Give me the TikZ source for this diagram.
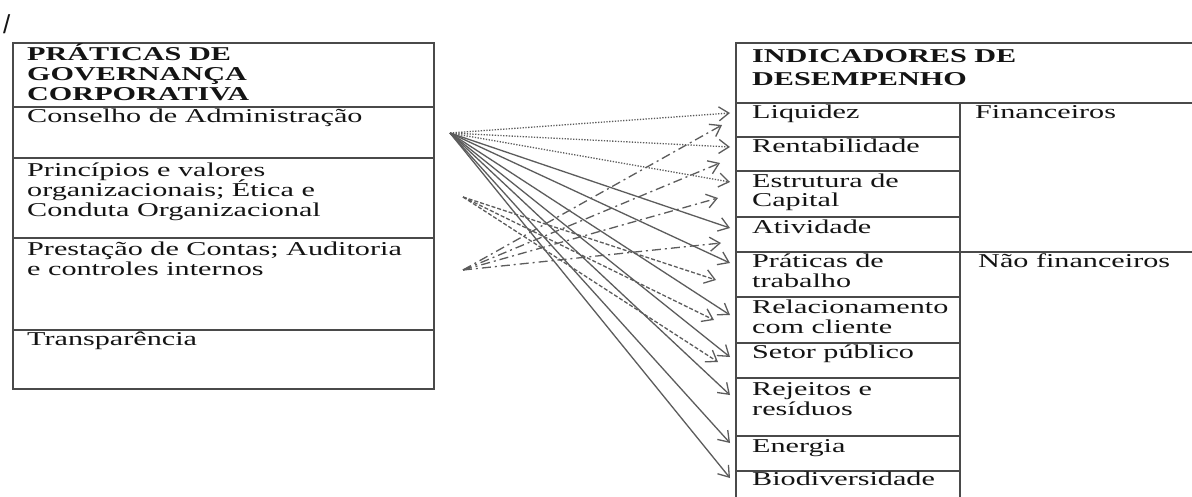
\documentclass[tikz,border=0pt]{standalone}
\usepackage{fontspec}
\setmainfont[FakeStretch=1.54]{Liberation Serif}
\newfontfamily\slashfont{Liberation Sans}
\usetikzlibrary{arrows.meta}
\definecolor{linegray}{HTML}{4A4A4A}
\definecolor{arrowgray}{HTML}{5C5C5C}
\definecolor{textc}{HTML}{141414}
\tikzset{
  cell/.style={draw=linegray, line width=2.2pt, anchor=north west, inner sep=0pt},
  txt/.style={anchor=base west, inner sep=0pt, text=textc, font=\fontsize{19.6}{22}\selectfont},
  hd/.style={txt, font=\fontsize{19.6}{22}\selectfont\bfseries},
  conn/.style={draw=arrowgray, line width=1.3pt, -{Straight Barb[length=10pt,width=14pt]}},
  dotc/.style={conn, dash pattern=on 1.3pt off 1.5pt},
  dashc/.style={conn, dash pattern=on 4pt off 2pt},
  dashdotc/.style={conn, dash pattern=on 9pt off 4pt on 2pt off 4pt},
}
\begin{document}
\begin{tikzpicture}[x=1pt,y=-1pt]
\useasboundingbox (0,0) rectangle (1192,496);
\clip (0,0) rectangle (1192,496);
\fill[white] (0,0) rectangle (1192,496);
% slash
\node[anchor=base west, inner sep=0pt, text=textc, font=\slashfont\fontsize{26}{28}\selectfont] (slash) at (3,33) {/};
% left table
\node[cell, minimum width=421pt, minimum height=64pt] (lhead) at (12,42) {};
\node[cell, minimum width=421pt, minimum height=51pt] (lr1) at (12,106) {};
\node[cell, minimum width=421pt, minimum height=80pt] (lr2) at (12,157) {};
\node[cell, minimum width=421pt, minimum height=92pt] (lr3) at (12,237) {};
\node[cell, minimum width=421pt, minimum height=59pt] (lr4) at (12,329) {};
\node[hd] (lh1) at (27,60) {PRÁTICAS DE};
\node[hd] (lh2) at (27,80) {GOVERNANÇA};
\node[hd] (lh3) at (27,100) {CORPORATIVA};
\node[txt] (l1) at (27,122) {Conselho de Administração};
\node[txt] (l2a) at (27,176) {Princípios e valores};
\node[txt] (l2b) at (27,196) {organizacionais; Ética e};
\node[txt] (l2c) at (27,216) {Conduta Organizacional};
\node[txt] (l3a) at (27,255) {Prestação de Contas; Auditoria};
\node[txt] (l3b) at (27,275) {e controles internos};
\node[txt] (l4) at (27,345) {Transparência};
% right table
\node[cell, minimum width=470pt, minimum height=60pt] (rhead) at (735,42) {};
\node[cell, minimum width=224pt, minimum height=34pt] (r1) at (735,102) {};
\node[cell, minimum width=224pt, minimum height=34pt] (r2) at (735,136) {};
\node[cell, minimum width=224pt, minimum height=46pt] (r3) at (735,170) {};
\node[cell, minimum width=224pt, minimum height=35pt] (r4) at (735,216) {};
\node[cell, minimum width=246pt, minimum height=149pt] (gfin) at (959,102) {};
\node[cell, minimum width=224pt, minimum height=45pt] (r5) at (735,251) {};
\node[cell, minimum width=224pt, minimum height=46pt] (r6) at (735,296) {};
\node[cell, minimum width=224pt, minimum height=35pt] (r7) at (735,342) {};
\node[cell, minimum width=224pt, minimum height=58pt] (r8) at (735,377) {};
\node[cell, minimum width=224pt, minimum height=35pt] (r9) at (735,435) {};
\node[cell, minimum width=224pt, minimum height=40pt] (r10) at (735,470) {};
\node[cell, minimum width=246pt, minimum height=260pt] (gnf) at (959,251) {};
\node[hd] (rh1) at (752,62) {INDICADORES DE};
\node[hd] (rh2) at (752,85) {DESEMPENHO};
\node[txt] (t1) at (752,118) {Liquidez};
\node[txt] (tfin) at (975,118) {Financeiros};
\node[txt] (t2) at (752,152) {Rentabilidade};
\node[txt] (t3a) at (752,187) {Estrutura de};
\node[txt] (t3b) at (752,206) {Capital};
\node[txt] (t4) at (752,233) {Atividade};
\node[txt] (t5a) at (752,267) {Práticas de};
\node[txt] (t5b) at (752,287) {trabalho};
\node[txt] (tnf) at (978,267) {Não financeiros};
\node[txt] (t6a) at (752,313) {Relacionamento};
\node[txt] (t6b) at (752,333) {com cliente};
\node[txt] (t7) at (752,358) {Setor público};
\node[txt] (t8a) at (752,395) {Rejeitos e};
\node[txt] (t8b) at (752,415) {resíduos};
\node[txt] (t9) at (752,452) {Energia};
\node[txt] (t10) at (752,485) {Biodiversidade};
% connector sources and ends
\coordinate (A) at (450,133);
\coordinate (B) at (463,197);
\coordinate (C) at (463,270);
\coordinate (a1) at (730,113);
\coordinate (a2) at (730,147);
\coordinate (a3) at (730,182);
\coordinate (a4) at (730,228);
\coordinate (a5) at (730,263);
\coordinate (a6) at (730,315);
\coordinate (a7) at (730,357);
\coordinate (a8) at (730,395);
\coordinate (a9) at (730,443);
\coordinate (a10) at (730,478);
\coordinate (b1) at (716,280);
\coordinate (b2) at (714,320);
\coordinate (b3) at (718,362);
\coordinate (c1) at (722,125);
\coordinate (c2) at (720,163);
\coordinate (c3) at (718,198);
\coordinate (c4) at (721,243);
\draw[dotc] (A) -- (a1);
\draw[dotc] (A) -- (a2);
\draw[dotc] (A) -- (a3);
\draw[conn] (A) -- (a4);
\draw[conn] (A) -- (a5);
\draw[conn] (A) -- (a6);
\draw[conn] (A) -- (a7);
\draw[conn] (A) -- (a8);
\draw[conn] (A) -- (a9);
\draw[conn] (A) -- (a10);
\draw[dashc] (B) -- (b1);
\draw[dashc] (B) -- (b2);
\draw[dashc] (B) -- (b3);
\draw[dashdotc] (C) -- (c1);
\draw[dashdotc] (C) -- (c2);
\draw[dashdotc] (C) -- (c3);
\draw[dashdotc] (C) -- (c4);
\end{tikzpicture}
\end{document}
